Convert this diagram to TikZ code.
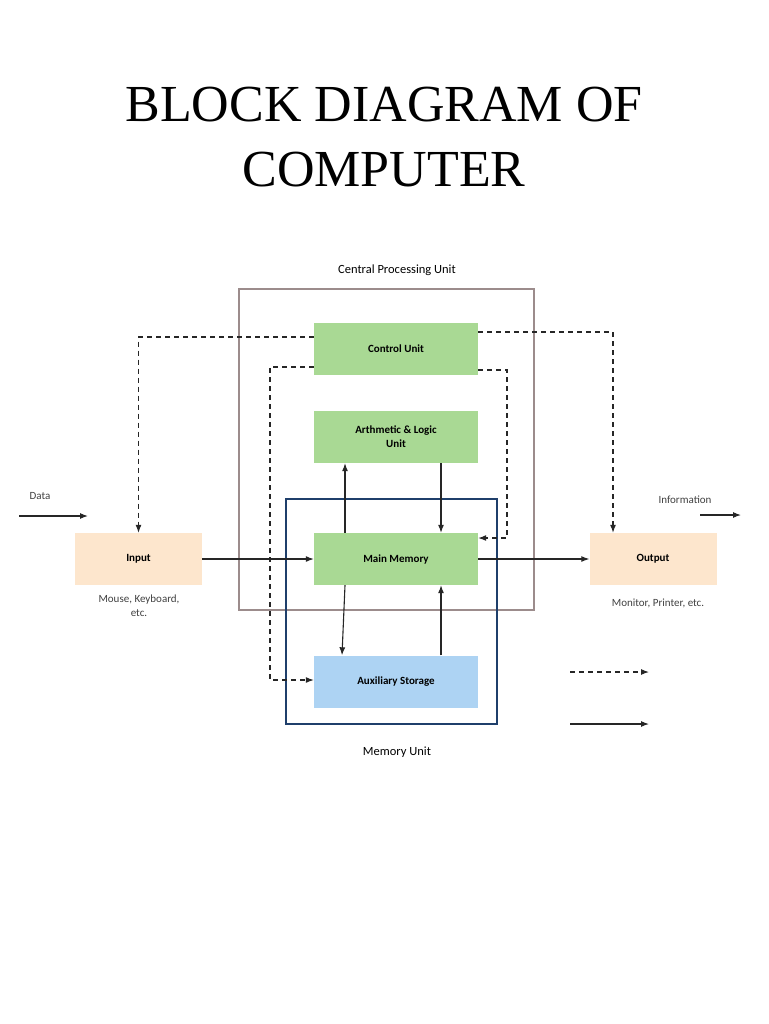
\documentclass[tikz,border=0pt]{standalone}
\usepackage{fontspec}
\setmainfont{Carlito}
\newfontfamily\titlefont{Liberation Serif}
\usetikzlibrary{arrows.meta}
\definecolor{gr}{HTML}{A9D994}
\definecolor{pe}{HTML}{FDE6CD}
\definecolor{bl}{HTML}{ADD3F3}
\definecolor{cpub}{HTML}{9C8C8C}
\definecolor{memb}{HTML}{1F3F6B}
\begin{document}
\begin{tikzpicture}[x=1pt,y=-1pt,
 blk/.style={draw=none,minimum width=164pt,minimum height=52pt,inner sep=0pt,font=\bfseries\fontsize{11}{14}\selectfont,align=center},
 io/.style={blk,fill=pe,minimum width=127pt},
 lab/.style={font=\fontsize{11}{14}\selectfont,text=black!75,align=center},
 sol/.style={draw=black!85,line width=1.1pt,-{Latex[length=8pt,width=6pt]}},
 dsh/.style={sol,dash pattern=on 5pt off 4pt}]
\useasboundingbox (0,0) rectangle (768,1024);
\node[font=\titlefont\fontsize{52}{60}\selectfont] (t1) at (384,105) {BLOCK DIAGRAM OF};
\node[font=\titlefont\fontsize{52}{60}\selectfont] (t2) at (384,170) {COMPUTER};
\draw[cpub,line width=1.2pt] (239,289) rectangle (534,610);
\node[lab,text=black,font=\fontsize{12.5}{15}\selectfont] (cpul) at (397,270) {Central Processing Unit};
\node[blk,fill=gr] (cu) at (396,349) {Control Unit};
\node[blk,fill=gr] (alu) at (396,437) {Arthmetic \& Logic\\Unit};
\node[blk,fill=gr] (mm) at (396,559) {Main Memory};
\node[blk,fill=bl] (aux) at (396,681.5) {Auxiliary Storage};
\draw[memb,line width=1.6pt] (286,499) rectangle (497,724);
\node[lab,text=black,font=\fontsize{12.5}{15}\selectfont] (meml) at (397,752) {Memory Unit};
\node[io] (in) at (138.5,559) {Input};
\node[io] (out) at (653,559) {Output};
\node[lab] (inl) at (139,606) {Mouse, Keyboard,\\etc.};
\node[lab] (outl) at (658,603) {Monitor, Printer, etc.};
\node[lab] (datal) at (40,496) {Data};
\node[lab] (infol) at (685,500) {Information};
\coordinate (d1) at (19,516); \coordinate (d2) at (88,516);
\coordinate (i1) at (700,515); \coordinate (i2) at (741,515);
\draw[sol] (d1) -- (d2);
\draw[sol] (i1) -- (i2);
\draw[dsh] (cu.west |- 0,337) -| (in.north);
\draw[dsh] (cu.east |- 0,332) -| (out.north -| 613,0);
\draw[dsh] (cu.west |- 0,367) -- (270,367) |- (aux.west |- 0,680);
\draw[dsh] (cu.east |- 0,370) -- (507,370) |- (mm.east |- 0,538);
\draw[sol] (mm.north -| 345,0) -- (alu.south -| 345,0);
\draw[sol] (alu.south -| 441,0) -- (mm.north -| 441,0);
\draw[sol] (mm.south -| 345,0) -- (aux.north -| 342,0);
\draw[sol] (aux.north -| 441,0) -- (mm.south -| 441,0);
\draw[sol] (in.east) -- (mm.west);
\draw[sol] (mm.east) -- (out.west);
\coordinate (l1) at (570,672); \coordinate (l2) at (649,672);
\coordinate (l3) at (570,724); \coordinate (l4) at (649,724);
\draw[dsh] (l1) -- (l2);
\draw[sol] (l3) -- (l4);
\end{tikzpicture}
\end{document}
